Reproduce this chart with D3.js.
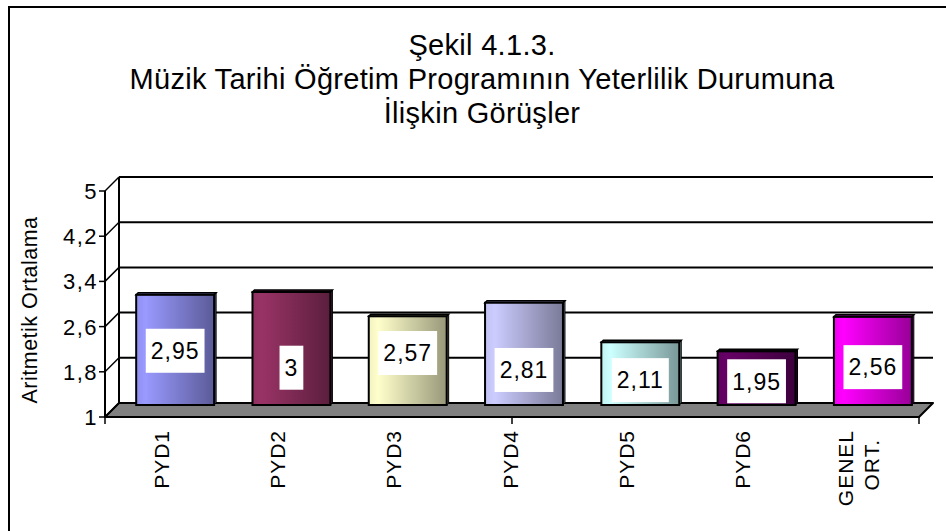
<!DOCTYPE html>
<html lang="tr">
<head>
  <meta charset="utf-8"/>
  <script src="https://d3js.org/d3.v7.min.js"></script>
  <style>
    html, body { margin: 0; padding: 0; background: #fff; }
    svg text { font-family: "Liberation Sans", Arial, sans-serif; fill: #000; }
    .title { font-size: 29px; letter-spacing: 0.3px; }
    .ytick { font-size: 22px; letter-spacing: 1.5px; }
    .ytitle { font-size: 21.5px; letter-spacing: 0.5px; }
    .xlab { font-size: 21px; letter-spacing: 1px; }
    .vlab { font-size: 23px; letter-spacing: 1px; }
  </style>
</head>
<body>
<div id="chart"></div>
<script>
  // chart data
  const titleLines = ["Şekil 4.1.3.", "Müzik Tarihi Öğretim Programının Yeterlilik Durumuna", "İlişkin Görüşler"];
  const yTitle = "Aritmetik Ortalama";
  const categories = ["PYD1", "PYD2", "PYD3", "PYD4", "PYD5", "PYD6", "GENEL ORT."];
  const values = [2.95, 3, 2.57, 2.81, 2.11, 1.95, 2.56];
  const valueLabels = ["2,95", "3", "2,57", "2,81", "2,11", "1,95", "2,56"];
  // level (in axis units) where each value label box sits
  const labelLevels = [1.96, 1.66, 1.92, 1.62, 1.44, 1.42, 1.67];
  const yTicks = [1, 1.8, 2.6, 3.4, 4.2, 5];
  const yTickLabels = ["1", "1,8", "2,6", "3,4", "4,2", "5"];

  const palette = ["#9999ff", "#993366", "#ffffcc", "#ccccff", "#ccffff", "#660066", "#ff00ff"];

  const width = 946, height = 531;
  const depth = 14;      // 3d offset of the back wall
  const barDepth = 12;   // where bar fronts sit inside the depth

  const svg = d3.select("#chart").append("svg")
    .attr("width", width)
    .attr("height", height);

  const defs = svg.append("defs");

  // outer frame (runs off the right and bottom edges like the source)
  svg.append("rect")
    .attr("x", 9).attr("y", 7)
    .attr("width", 960).attr("height", 540)
    .attr("fill", "none").attr("stroke", "#000").attr("stroke-width", 2);

  // title
  svg.append("g").selectAll("text")
    .data(titleLines)
    .enter().append("text")
    .attr("class", "title")
    .attr("x", 482)
    .attr("y", (d, i) => 55 + i * 34)
    .attr("text-anchor", "middle")
    .text(d => d);

  const x = d3.scaleBand()
    .domain(categories)
    .range([105, 919])
    .paddingInner(0.33)
    .paddingOuter(0.165);

  const y = d3.scaleLinear()
    .domain([1, 5])
    .range([417, 191]);

  const [x0, x1] = x.range();
  const g = svg.append("g");

  // floor
  g.append("polygon")
    .attr("points", [[x0, y(1)], [x1, y(1)], [x1 + depth, y(1) - depth], [x0 + depth, y(1) - depth]].join(" "))
    .attr("fill", "#808080")
    .attr("stroke", "#000")
    .attr("stroke-width", 2)
    .attr("stroke-linejoin", "round");

  // back wall gridlines
  g.append("g").selectAll("line")
    .data(yTicks.slice(1))
    .enter().append("line")
    .attr("x1", x0 + depth).attr("x2", x1 + depth)
    .attr("y1", d => y(d) - depth).attr("y2", d => y(d) - depth)
    .attr("stroke", "#000").attr("stroke-width", 2);

  // back-left edge of the wall
  g.append("line")
    .attr("x1", x0 + depth).attr("x2", x0 + depth)
    .attr("y1", y(5) - depth).attr("y2", y(1) - depth)
    .attr("stroke", "#000").attr("stroke-width", 2);

  // front value axis with its ticks and the diagonal links to the wall
  g.append("line")
    .attr("x1", x0).attr("x2", x0)
    .attr("y1", y(5)).attr("y2", y(1))
    .attr("stroke", "#000").attr("stroke-width", 2);

  const yt = g.append("g").selectAll("g")
    .data(yTicks)
    .enter().append("g");
  yt.append("line")
    .attr("x1", x0).attr("x2", x0 + depth)
    .attr("y1", d => y(d)).attr("y2", d => y(d) - depth)
    .attr("stroke", "#000").attr("stroke-width", 1.5);
  yt.append("line")
    .attr("x1", x0 - 6).attr("x2", x0)
    .attr("y1", d => y(d)).attr("y2", d => y(d))
    .attr("stroke", "#000").attr("stroke-width", 1.5);
  yt.append("text")
    .attr("class", "ytick")
    .attr("x", x0 - 7)
    .attr("y", d => y(d))
    .attr("dy", "0.36em")
    .attr("text-anchor", "end")
    .text((d, i) => yTickLabels[i]);

  // value axis title
  svg.append("text")
    .attr("class", "ytitle")
    .attr("transform", "translate(37,310) rotate(-90)")
    .attr("text-anchor", "middle")
    .text(yTitle);

  // category axis ticks
  const xTicks = [x0, x(categories[3]) + x.bandwidth() / 2, x1];
  g.append("g").selectAll("line")
    .data(xTicks)
    .enter().append("line")
    .attr("x1", d => d).attr("x2", d => d)
    .attr("y1", y(1)).attr("y2", y(1) + 7)
    .attr("stroke", "#000").attr("stroke-width", 1.5);

  // category labels, rotated
  const xl = svg.append("g").selectAll("text")
    .data(categories)
    .enter().append("text")
    .attr("class", "xlab")
    .attr("transform", d => `translate(${x(d) + x.bandwidth() / 2 - 2},${y(1) + 13}) rotate(-90)`)
    .attr("text-anchor", "end");
  xl.each(function(d) {
    const lines = d.split(" ");
    const t = d3.select(this);
    lines.forEach((s, i) => {
      t.append("tspan")
        .attr("x", 0)
        .attr("y", (i - (lines.length - 1) / 2) * 26)
        .attr("dy", "0.36em")
        .attr("dx", lines.length > 1 ? (i === 0 ? 0 : -9) : 0)
        .text(s);
    });
  });

  // bar gradients, light on the left and shaded to the right
  palette.forEach((c, i) => {
    const grad = defs.append("linearGradient")
      .attr("id", "grad" + i)
      .attr("x1", "0%").attr("x2", "100%")
      .attr("y1", "0%").attr("y2", "0%");
    grad.append("stop").attr("offset", "0%").attr("stop-color", d3.color(c).darker(0.15));
    grad.append("stop").attr("offset", "12%").attr("stop-color", c);
    grad.append("stop").attr("offset", "100%").attr("stop-color", d3.color(c).darker(1.45));
  });

  // bars
  const bw = x.bandwidth();
  const bars = g.append("g").selectAll("g")
    .data(values)
    .enter().append("g");

  bars.each(function(v, i) {
    const b = d3.select(this);
    const bx0 = x(categories[i]) + barDepth;
    const bx1 = bx0 + bw;
    const yb = y(1) - barDepth;
    const ytop = y(v) - barDepth;
    const dark = d3.color(palette[i]).darker(1.8);
    b.append("polygon")
      .attr("points", [[bx1, yb], [bx1, ytop], [bx1 + 2, ytop - 2], [bx1 + 2, yb - 2]].join(" "))
      .attr("fill", dark).attr("stroke", "#000").attr("stroke-width", 1);
    b.append("polygon")
      .attr("points", [[bx0, ytop], [bx1, ytop], [bx1 + 2, ytop - 2], [bx0 + 2, ytop - 2]].join(" "))
      .attr("fill", dark).attr("stroke", "#000").attr("stroke-width", 1.5);
    b.append("rect")
      .attr("x", bx0).attr("y", ytop)
      .attr("width", bw).attr("height", yb - ytop)
      .attr("fill", `url(#grad${i})`)
      .attr("stroke", "#000").attr("stroke-width", 2);
  });

  // value labels in white boxes
  const vl = svg.append("g").selectAll("g")
    .data(values)
    .enter().append("g")
    .attr("transform", (v, i) => `translate(${x(categories[i]) + barDepth + bw / 2},${y(labelLevels[i]) - barDepth})`);
  vl.append("rect").attr("fill", "#fff");
  vl.append("text")
    .attr("class", "vlab")
    .attr("text-anchor", "middle")
    .attr("dy", "0.36em")
    .text((v, i) => valueLabels[i]);
  vl.each(function() {
    const t = d3.select(this).select("text").node();
    const w = t.getComputedTextLength();
    d3.select(this).select("rect")
      .attr("x", -w / 2 - 5).attr("y", -22)
      .attr("width", w + 10).attr("height", 44);
  });
</script>
</body>
</html>
